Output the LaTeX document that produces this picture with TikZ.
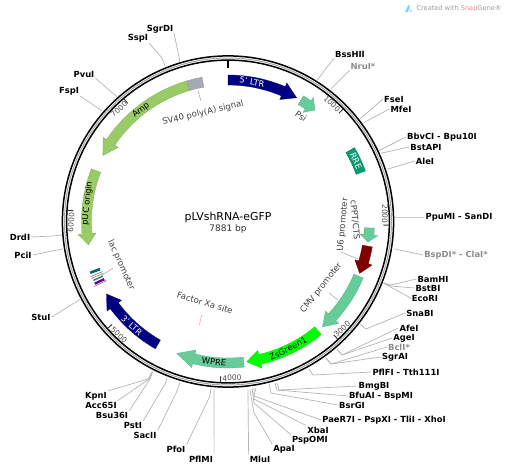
\documentclass[tikz,border=0pt]{standalone}
\usepackage{xcolor}
\usepackage{fontspec}
\setmainfont{DejaVu Sans}
\usepackage{tikz}
\definecolor{ltrblue}{HTML}{000080}
\definecolor{ampgreen}{HTML}{99CC66}
\definecolor{seagreen}{HTML}{66CC99}
\definecolor{rregreen}{HTML}{0A9A70}
\definecolor{zsgreen}{HTML}{00FF00}
\definecolor{ushred}{HTML}{800000}
\definecolor{polygray}{HTML}{A4ABB4}
\definecolor{leadgray}{HTML}{B4B4B4}
\definecolor{snapred}{HTML}{E88C8C}
\newcommand{\featarrow}[4]{\filldraw[#1] ({#2-90}:146.5) arc[start angle=#2-90,end angle=#3-90,radius=146.5] -- ({#3-90}:150.5) -- ({#4-90}:141.5) -- ({#3-90}:132.5) -- ({#3-90}:136.5) arc[start angle=#3-90,end angle=#2-90,radius=136.5] -- cycle;}
\newcommand{\featbox}[3]{\filldraw[#1] ({#2-90}:146.5) arc[start angle=#2-90,end angle=#3-90,radius=146.5] -- ({#3-90}:136.5) arc[start angle=#3-90,end angle=#2-90,radius=136.5] -- cycle;}

\begin{document}
\begin{tikzpicture}[x=1pt,y=-1pt,
  enz/.style={font=\fontsize{8.4}{10}\selectfont\bfseries,inner sep=1pt,text=black},
  enzoff/.style={enz,text=black!45},
  lead/.style={draw=leadgray,line width=0.7pt},
  feat/.style={draw=#1!85!black,fill=#1,line width=0.3pt},
  ftxt/.style={font=\fontsize{8.4}{10}\selectfont,inner sep=0pt},
  flbl/.style={font=\fontsize{8.5}{10}\selectfont,text=black!75,inner sep=0pt},
  tnum/.style={font=\fontsize{7.5}{9}\selectfont,text=black!70,inner sep=0pt},
  tick/.style={line width=0.9pt,black!80}
]
\useasboundingbox (0,0) rectangle (508,472);

% Title
\node[font=\fontsize{10.9}{12}\selectfont] (title) at (228,217) {pLVshRNA-eGFP};
\node[font=\fontsize{9}{11}\selectfont,text=black!80] (size) at (228,229) {7881 bp};

% Ring
\coordinate (c) at (228,221.5);
\draw[line width=1.5pt] (c) circle[radius=165.6];
\draw[line width=1.5pt] (c) circle[radius=161.4];
\draw[line width=1pt,black!35] (c) circle[radius=163.5];

% Ticks
\draw[line width=1.4pt] (228,59.5) -- (228,68);
\begin{scope}[shift={(228,221.5)}]
\foreach \b in {45.7,91.3,137,182.7,228.4,274,319.7}
  \draw[tick] ({\b-90}:161) -- ({\b-90}:155);

% Features
\featarrow{feat=ltrblue}{0}{23}{29}
\featarrow{feat=seagreen}{31}{34.5}{38}
\featbox{feat=rregreen}{59.7}{69.8}
\featarrow{feat=seagreen}{92.6}{95.4}{98.3}
\featarrow{feat=ushred}{100}{106.8}{111.5}
\featarrow{feat=seagreen}{112.7}{132.6}{138.1}
\featarrow{feat=zsgreen}{140.5}{167}{172.4}
\featarrow{feat=seagreen}{173.6}{194}{201.2}
\featarrow{feat=ltrblue}{209.7}{233.5}{239.2}
\featarrow{feat=ampgreen}{291.1}{265}{260.5}
\featarrow{feat=ampgreen}{343.7}{304}{297.8}
\featbox{feat=polygray}{343.7}{349.8}

% lac promoter stack
\draw[line width=2.6pt,teal!80!black] ({249.6-90}:136.5) -- ({249.6-90}:147);
\draw[line width=0.5pt,black!60] ({248.2-90}:135) -- ({248.2-90}:148);
\draw[line width=0.5pt,black!60] ({247.4-90}:135) -- ({247.4-90}:148);
\draw[line width=1.4pt,teal!70!gray] ({246.4-90}:136.5) -- ({246.4-90}:147);
\draw[line width=2.4pt,violet!90!blue] ({245-90}:136.5) -- ({245-90}:147);
\draw[line width=0.5pt,black!60] ({244.1-90}:135) -- ({244.1-90}:149);
\end{scope}

% Feature texts
\node[ftxt,text=white,rotate=-10] (ltra) at (252,82) {5' LTR};
\node[ftxt,text=white,rotate=-65] (rre) at (356,161) {RRE};
\node[ftxt,rotate=27] (zsg) at (288,348.7) {ZsGreen1};
\node[ftxt,rotate=-5] (wpre) at (214,362) {WPRE};
\node[ftxt,text=white,rotate=-42] (ltrb) at (131.7,325.3) {3' LTR};
\node[ftxt,rotate=84] (puc) at (87.3,203.3) {pUC origin};
\node[ftxt,rotate=38] (amp) at (141,110) {Amp};

% Tick numbers
\node[tnum,rotate=-43] (n1k) at (332,104) {1000};
\node[tnum,rotate=-91] (n2k) at (385,214) {2000};
\node[tnum,rotate=43] (n3k) at (342,329) {3000};
\node[tnum,rotate=3] (n4k) at (232,378) {4000};
\node[tnum,rotate=-42] (n5k) at (119,335) {5000};
\node[tnum,rotate=86] (n6k) at (71,222.5) {6000};
\node[tnum,rotate=42] (n7k) at (119,109) {7000};

% Feature labels
\node[flbl,rotate=-35] (psi) at (301,116) {Psi};
\node[flbl,rotate=-85] (cppt) at (355,220) {cPPT/CTS};
\node[flbl,rotate=85] (usix) at (343,225) {U6 promoter};
\node[flbl,rotate=52] (cmv) at (321.3,288) {CMV promoter};
\node[flbl,rotate=-17] (fxa) at (205,303) {Factor Xa site};
\node[flbl,rotate=-66] (lac) at (121,265) {lac promoter};
\node[flbl,rotate=13] (sv) at (203,113) {SV40 poly(A) signal};

\coordinate (usixc) at (358,259);
\coordinate (cmvc) at (338,300);
\coordinate (lacc) at (101,276);
\coordinate (svc) at (198,91);
\coordinate (fxaa) at (201.7,315);
\coordinate (fxab) at (199.3,325);
\draw[lead] (usix.west) -- (usixc);
\draw[lead] (329,293) -- (cmvc);
\draw[lead] (113,268) -- (lacc);
\draw[lead] (201,101) -- (svc);
\draw[line width=0.8pt,pink!70!purple!60] (fxaa) -- (fxab);

% Enzymes: name/anchor/label/elbow/ring
\foreach \id/\an/\lx/\ly/\txt/\mx/\my/\ex/\ey in {
  sgrdi/south east/160/29/SgrDI/174/33/180/62,
  sspi/south east/138/38/SspI/162/58/165/66,
  pvui/south east/84/74/PvuI/116/96/117/97,
  fspi/south east/69/91/FspI/101/110/102/111,
  drdi/east/20/237/DrdI/53/236/62/235,
  pcii/east/23/255/PciI/62/249/63/249,
  stui/east/41/317/StuI/79/300/80/299,
  kpni/north east/96/396/KpnI/148/379/152/372,
  accsi/north east/101/405/Acc65I/149/379/152/372,
  bsui/north east/112/415/Bsu36I/150/379/153/371,
  psti/north east/133/425/PstI/165/384/167/378,
  sacii/north east/145/435/SacII/177/391/180/382,
  pfoi/north east/176/449/PfoI/210/396/211/388,
  pflmi/north east/201/459/PflMI/214/395/214/389,
  mlui/north west/260/459/MluI/248/395/248/390,
  apai/north west/284/449/ApaI/254/413/250/390,
  pspomi/north west/310/440/PspOMI/254/403/252/388,
  xbai/north west/318/430/XbaI/254/399/254/388,
  paer/west/384/420/PaeR7I - PspXI - TliI - XhoI/254/396/256/388,
  bsrgi/west/352/405/BsrGI/271/393/269/384,
  bfuai/west/381/396/BfuAI - BspMI/277/390/275/383,
  bmgbi/west/374/386/BmgBI/279/390/277/383,
  pflfi/west/406/372/PflFI - Tth111I/313/375/309/369,
  sgrai/west/395/357/SgrAI/331/364/326/358,
  agei/west/404/338/AgeI/342/355/337/349,
  afei/west/409/328/AfeI/342/355/337/349,
  snabi/west/420/313/SnaBI/366/329/360/324,
  ecori/west/425/298/EcoRI/385/284/384/284,
  bstbi/west/428/288/BstBI/391/286/384/283,
  bamhi/west/433/279/BamHI/391/285/383/283,
  ppumi/west/459/217/PpuMI - SanDI/396/217/395/217,
  alei/west/425/161/AleI/388/169/387/169,
  bstapi/west/426/147/BstAPI/382/153/381/153,
  bbvci/west/442/137/BbvCI - Bpu10I/380/150/379/151,
  mfei/west/401/109/MfeI/365/122/364/123,
  fsei/west/394/99/FseI/361/118/360/119,
  bsshii/south west/350/54/BssHII/318/79/317/80}
{
  \node[enz] (\id) at (\lx,\ly) {\txt};
  \coordinate (\id e) at (\mx,\my);
  \coordinate (\id r) at (\ex,\ey);
  \draw[lead] (\id.\an) -- (\id e) -- (\id r);
}
\foreach \id/\an/\lx/\ly/\txt/\mx/\my/\ex/\ey in {
  nrui/south west/363/66/NruI*/332/88/331/89,
  bspdi/west/456/255/BspDI* - ClaI*/395/249/394/249,
  bcli/west/399/347/BclI*/331/364/326/358}
{
  \node[enzoff] (\id) at (\lx,\ly) {\txt};
  \coordinate (\id e) at (\mx,\my);
  \coordinate (\id r) at (\ex,\ey);
  \draw[lead] (\id.\an) -- (\id e) -- (\id r);
}

% Credit
\node[font=\fontsize{6.6}{8}\selectfont,text=black!40] (credit) at (459,9) {Created with \textcolor{snapred}{Snap}Gene®};
\fill[cyan!50] (405,12) -- (408.5,4.5) -- (410,7) -- (408,12) -- cycle;
\fill[cyan!25] (409,12) -- (410.5,8) -- (412.5,12) -- cycle;
\end{tikzpicture}
\end{document}
